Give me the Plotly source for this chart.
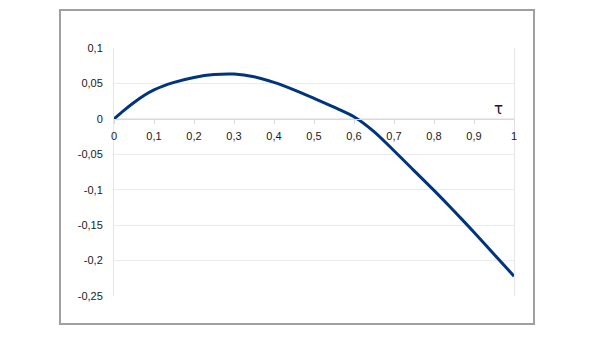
import plotly.graph_objects as go

tau = [0, 0.025, 0.05, 0.075, 0.1, 0.15, 0.2, 0.25, 0.3, 0.35, 0.4, 0.45, 0.5, 0.55, 0.6, 0.65, 0.7, 0.75, 0.8, 0.85, 0.9, 0.95, 1.0]
val = [0, 0.012, 0.023, 0.033, 0.041, 0.0515, 0.0585, 0.0625, 0.0632, 0.0595, 0.0515, 0.041, 0.029, 0.0165, 0.003, -0.018, -0.045, -0.073, -0.101, -0.130, -0.160, -0.191, -0.222]

xtick_vals = [0, 0.1, 0.2, 0.3, 0.4, 0.5, 0.6, 0.7, 0.8, 0.9, 1]
xtick_text = ["0", "0,1", "0,2", "0,3", "0,4", "0,5", "0,6", "0,7", "0,8", "0,9", "1"]
ytick_vals = [0.1, 0.05, 0, -0.05, -0.1, -0.15, -0.2, -0.25]
ytick_text = ["0,1", "0,05", "0", "-0,05", "-0,1", "-0,15", "-0,2", "-0,25"]

W, H = 600, 337
L, R, T, B = 114, 86, 48, 41
ph = H - T - B
pw = W - L - R

fig = go.Figure()
fig.add_trace(go.Scatter(x=tau, y=val, mode="lines",
                         line=dict(color="#00347f", width=3, shape="spline", smoothing=0.8),
                         showlegend=False, hoverinfo="skip"))

zero_pos = (0 - (-0.25)) / 0.35

fig.update_layout(
    width=W, height=H,
    margin=dict(l=L, r=R, t=T, b=B, pad=0),
    paper_bgcolor="white", plot_bgcolor="white",
    font=dict(family="Liberation Sans, Arial, sans-serif", size=11, color="#1a1a1a"),
    xaxis=dict(range=[0, 1], tickvals=xtick_vals, ticktext=xtick_text,
               showgrid=False, zeroline=False, showline=True, linecolor="#d9d9d9", linewidth=1,
               ticks="outside", ticklen=4, tickcolor="#d9d9d9", ticklabelstandoff=3,
               anchor="free", position=zero_pos, fixedrange=True),
    yaxis=dict(range=[-0.25, 0.1], tickvals=ytick_vals, ticktext=ytick_text,
               showgrid=True, gridcolor="#ececec", gridwidth=1, zeroline=False,
               showline=True, mirror=True, linecolor="#e6e6e6", linewidth=1,
               ticks="", ticklabelstandoff=8, fixedrange=True),
    annotations=[dict(text="τ", x=0.96, y=0.014, xref="x", yref="y", showarrow=False,
                      font=dict(size=15, color="#1a1a1a", family="DejaVu Sans"))],
    shapes=[dict(type="rect", xref="paper", yref="paper",
                 x0=(60 - L) / pw, x1=(534 - L) / pw,
                 y0=(H - B - 324) / ph, y1=(H - B - 10) / ph,
                 line=dict(color="#a0a0a0", width=2), fillcolor="rgba(0,0,0,0)", layer="below")],
)

fig.write_html("out.html")
